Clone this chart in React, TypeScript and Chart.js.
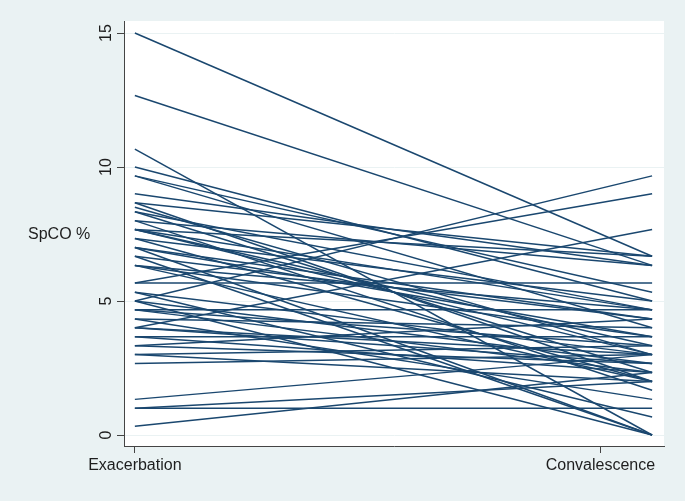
import { useEffect, useRef } from "react";
import { Chart, registerables } from "chart.js";

Chart.register(...registerables);

const periods = ["Exacerbation", "Convalescence"];
const periodTickPositions = [1, 1.9];
const pointX = [1, 2];
const yTickValues = [0, 5, 10, 15];
const yTitle = "SpCO %";

const exacerbation = [
  15.0, 12.67, 10.67, 10.0, 9.0, 8.67, 8.5, 8.33, 8.0, 7.67,
  7.67, 7.33, 7.0, 6.67, 6.33, 5.67, 5.67, 5.0, 4.0, 5.33,
  4.67, 4.33, 4.0, 3.67, 3.33, 3.0, 2.67, 1.33, 1.0, 1.0,
  0.33, 8.0, 7.67, 7.33, 7.0, 6.67, 6.33, 5.33, 4.67, 4.67,
  4.33, 3.33, 3.0, 5.0, 9.67, 8.67, 7.0, 4.0, 3.67, 6.33,
  9.67, 8.33, 5.0, 7.67,
];
const convalescence = [
  6.67, 6.33, 0, 5.0, 6.33, 6.67, 3.0, 2.33, 6.33, 6.67,
  4.67, 2.0, 4.33, 0, 3.67, 5.67, 9.0, 9.67, 7.67, 3.0,
  3.33, 4.0, 2.67, 3.67, 2.67, 3.33, 3.0, 3.0, 1.0, 2.0,
  2.33, 1.67, 3.33, 5.0, 0, 4.33, 2.0, 0.67, 4.67, 2.33,
  1.33, 4.33, 2.0, 0, 5.33, 2.0, 3.67, 3.0, 2.33, 4.67,
  4.0, 4.67, 2.67, 3.0,
];

const BG = "#EAF2F3";
const LINE = "#1A476F";
const FONT = "'Liberation Sans', Arial, Helvetica, sans-serif";

export default function App() {
  const ref = useRef<HTMLCanvasElement | null>(null);

  useEffect(() => {
    const canvas = ref.current;
    if (!canvas) return;
    document.body.style.margin = "0";

    const datasets = exacerbation.map((a, i) => ({
      data: [
        { x: pointX[0], y: a },
        { x: pointX[1], y: convalescence[i] },
      ],
      borderColor: LINE,
      borderWidth: 1.5,
      pointRadius: 0,
      fill: false,
      tension: 0,
    }));

    const decor = {
      id: "decor",
      beforeDraw(chart: any) {
        const { ctx, chartArea: a } = chart;
        ctx.save();
        ctx.fillStyle = BG;
        ctx.fillRect(0, 0, chart.width, chart.height);
        ctx.fillStyle = "#FFFFFF";
        ctx.fillRect(a.left, a.top, a.right - a.left, a.bottom - a.top);
        ctx.restore();
      },
      afterDraw(chart: any) {
        const { ctx } = chart;
        const ys = chart.scales.y;
        ctx.save();
        ctx.fillStyle = "#1E1E1E";
        ctx.font = `16px ${FONT}`;
        ctx.textAlign = "center";
        ctx.textBaseline = "middle";
        yTickValues.forEach((v) => {
          const py = ys.getPixelForValue(v);
          ctx.save();
          ctx.translate(107, py);
          ctx.rotate(-Math.PI / 2);
          ctx.fillText(String(v), 0, 0);
          ctx.restore();
        });
        ctx.textAlign = "left";
        ctx.fillText(yTitle, 28, 235);
        ctx.restore();
      },
    };

    const chart = new Chart(canvas, {
      type: "line",
      data: { datasets },
      plugins: [decor],
      options: {
        animation: false,
        responsive: false,
        layout: { padding: { left: 0, right: 21, top: 21, bottom: 0 } },
        plugins: { legend: { display: false }, tooltip: { enabled: false } },
        scales: {
          x: {
            type: "linear",
            min: 0.979,
            max: 2.023,
            afterBuildTicks: (s: any) => {
              s.ticks = periodTickPositions.map((v) => ({ value: v }));
            },
            afterFit: (s: any) => {
              s.height = 55;
            },
            ticks: {
              autoSkip: false,
              maxRotation: 0,
              minRotation: 0,
              padding: 3,
              color: "#1E1E1E",
              font: { family: FONT, size: 16 },
              callback: (v: any) => {
                const idx = periodTickPositions.indexOf(Number(v));
                return idx >= 0 ? periods[idx] : "";
              },
            },
            grid: {
              color: "rgba(0,0,0,0)",
              tickColor: "#444",
              tickLength: 7,
              drawOnChartArea: false,
            },
            border: { color: "#444", width: 1 },
          },
          y: {
            type: "linear",
            min: -0.41,
            max: 15.45,
            afterBuildTicks: (s: any) => {
              s.ticks = yTickValues.map((v) => ({ value: v }));
            },
            afterFit: (s: any) => {
              s.width = 124;
            },
            ticks: { display: false },
            grid: {
              color: "#EAF2F3",
              lineWidth: 1,
              tickColor: "#444",
              tickLength: 7,
            },
            border: { color: "#444", width: 1 },
          },
        },
      },
    });

    return () => chart.destroy();
  }, []);

  return (
    <div style={{ width: 685, height: 501, background: BG }}>
      <canvas ref={ref} width={685} height={501} style={{ display: "block" }} />
    </div>
  );
}
